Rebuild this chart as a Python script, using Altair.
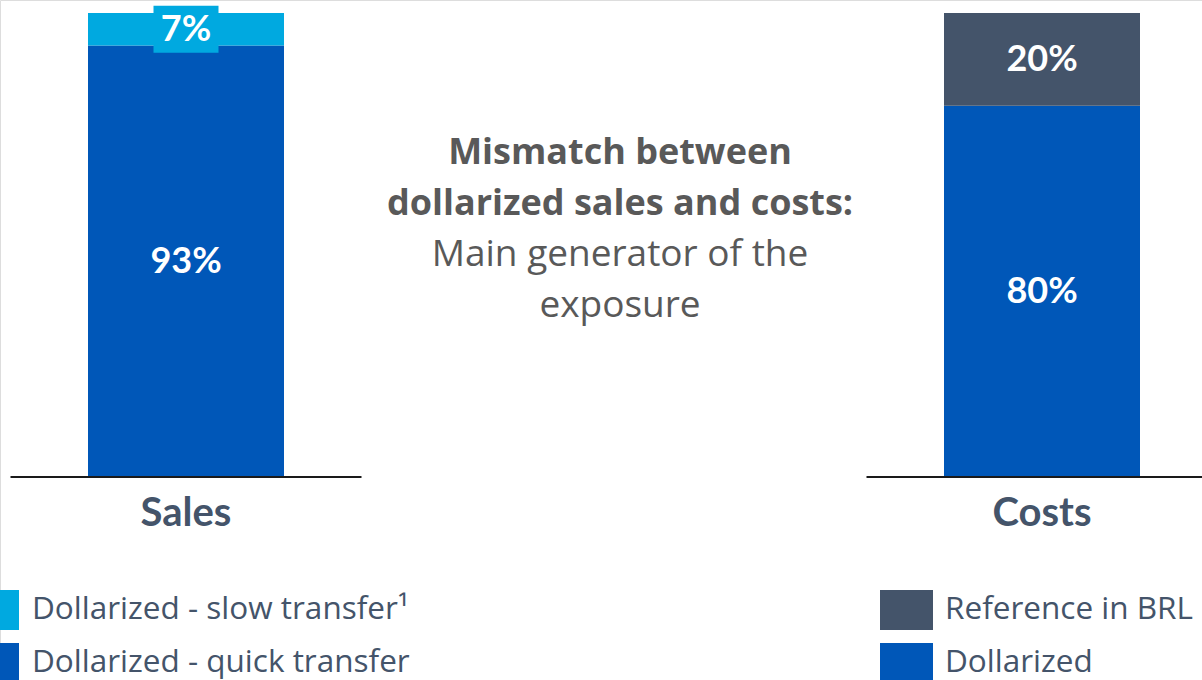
import altair as alt
import pandas as pd

# ---------------- data ----------------
categories = ["Sales", "Costs"]

sales_segments = ["Dollarized - quick transfer", "Dollarized - slow transfer¹"]
sales_values = [93, 7]

costs_segments = ["Dollarized", "Reference in BRL"]
costs_values = [80, 20]

sales_legend_order = ["Dollarized - slow transfer¹", "Dollarized - quick transfer"]
sales_colors = ["#00A9E0", "#0057B8"]
costs_legend_order = ["Reference in BRL", "Dollarized"]
costs_colors = ["#44546A", "#0057B8"]

note_bold = ["Mismatch between", "dollarized sales and costs:"]
note_regular = ["Main generator of the", "exposure"]

FONT = "Lato"
WIDE_FONT = "Open Sans"
LABEL_GREY = "#44546A"
NOTE_GREY = "#595959"


def stack(cat, segs, vals):
    rows, base = [], 0
    for s, v in zip(segs, vals):
        rows.append(dict(category=cat, segment=s, value=v, start=base,
                         end=base + v, mid=base + v / 2, label=f"{v}%"))
        base += v
    return pd.DataFrame(rows)


sales_df = stack("Sales", sales_segments, sales_values)
costs_df = stack("Costs", costs_segments, costs_values)
cat_df = pd.DataFrame({"category": categories, "zero": [0] * len(categories)})

x_enc = alt.X("category:N",
              scale=alt.Scale(type="point", domain=categories, range=[186, 1042], padding=0),
              axis=None)
y_scale = alt.Scale(domain=[0, 100], range=[477, 13], nice=False, zero=False)


def legend(x, offset):
    return alt.Legend(orient="none", legendX=x, legendY=583.5, title=None,
                      symbolType="M-1,-0.755H1V0.755H-1Z", symbolSize=2809,
                      symbolStrokeWidth=0, symbolOpacity=1,
                      labelFont=WIDE_FONT, labelFontSize=31.5, labelColor=LABEL_GREY,
                      labelOffset=offset, rowPadding=6, padding=0, labelLimit=0)


def panel(df, legend_order, colors, lx, loff, small_color):
    color = alt.Color("segment:N",
                      scale=alt.Scale(domain=legend_order, range=colors),
                      legend=legend(lx, loff))
    bars = alt.Chart(df).mark_bar(size=196).encode(
        x=x_enc,
        y=alt.Y("start:Q", scale=y_scale, axis=None),
        y2="end:Q",
        color=color,
    )
    bg = alt.Chart(df).transform_filter("datum.value < 10").mark_tick(
        size=65, thickness=47, opacity=1, color=small_color
    ).encode(x=x_enc, y=alt.Y("mid:Q", scale=y_scale, axis=None))
    labels = alt.Chart(df).mark_text(
        font=FONT, fontSize=36, fontWeight="bold", color="white", baseline="middle", dy=1
    ).encode(x=x_enc, y=alt.Y("mid:Q", scale=y_scale, axis=None), text="label:N")
    return alt.layer(bars, bg, labels)


sales_panel = panel(sales_df, sales_legend_order, sales_colors, -34, 13, sales_colors[0])
costs_panel = panel(costs_df, costs_legend_order, costs_colors, 880, 12, costs_colors[0])

baseline = alt.Chart(cat_df).mark_tick(size=351, thickness=2, color="#1a1a1a", opacity=1).encode(
    x=x_enc, y=alt.Y("zero:Q", scale=y_scale, axis=None)
)
cat_labels = alt.Chart(cat_df).mark_text(
    font=FONT, fontSize=40, fontWeight="bold", color=LABEL_GREY, baseline="middle", dy=37
).encode(x=x_enc, y=alt.Y("zero:Q", scale=y_scale, axis=None), text="category:N")

note_b = alt.Chart(pd.DataFrame({"t": [note_bold]})).mark_text(
    font=WIDE_FONT, fontSize=36, fontWeight="bold", color=NOTE_GREY, baseline="middle",
    align="center", lineHeight=51
).encode(x=alt.value(620), y=alt.value(153), text="t")
note_r = alt.Chart(pd.DataFrame({"t": [note_regular]})).mark_text(
    font=WIDE_FONT, fontSize=37, color=NOTE_GREY, baseline="middle",
    align="center", lineHeight=51
).encode(x=alt.value(620), y=alt.value(255), text="t")

chart = alt.layer(
    sales_panel, costs_panel, baseline, cat_labels, note_b, note_r
).resolve_scale(color="independent").properties(
    width=1202, height=680, padding=0,
    autosize=alt.AutoSizeParams(type="none"),
).configure_view(stroke=None).configure(background="white")

chart.save("out.html", embed_options={"renderer": "svg", "actions": False})
